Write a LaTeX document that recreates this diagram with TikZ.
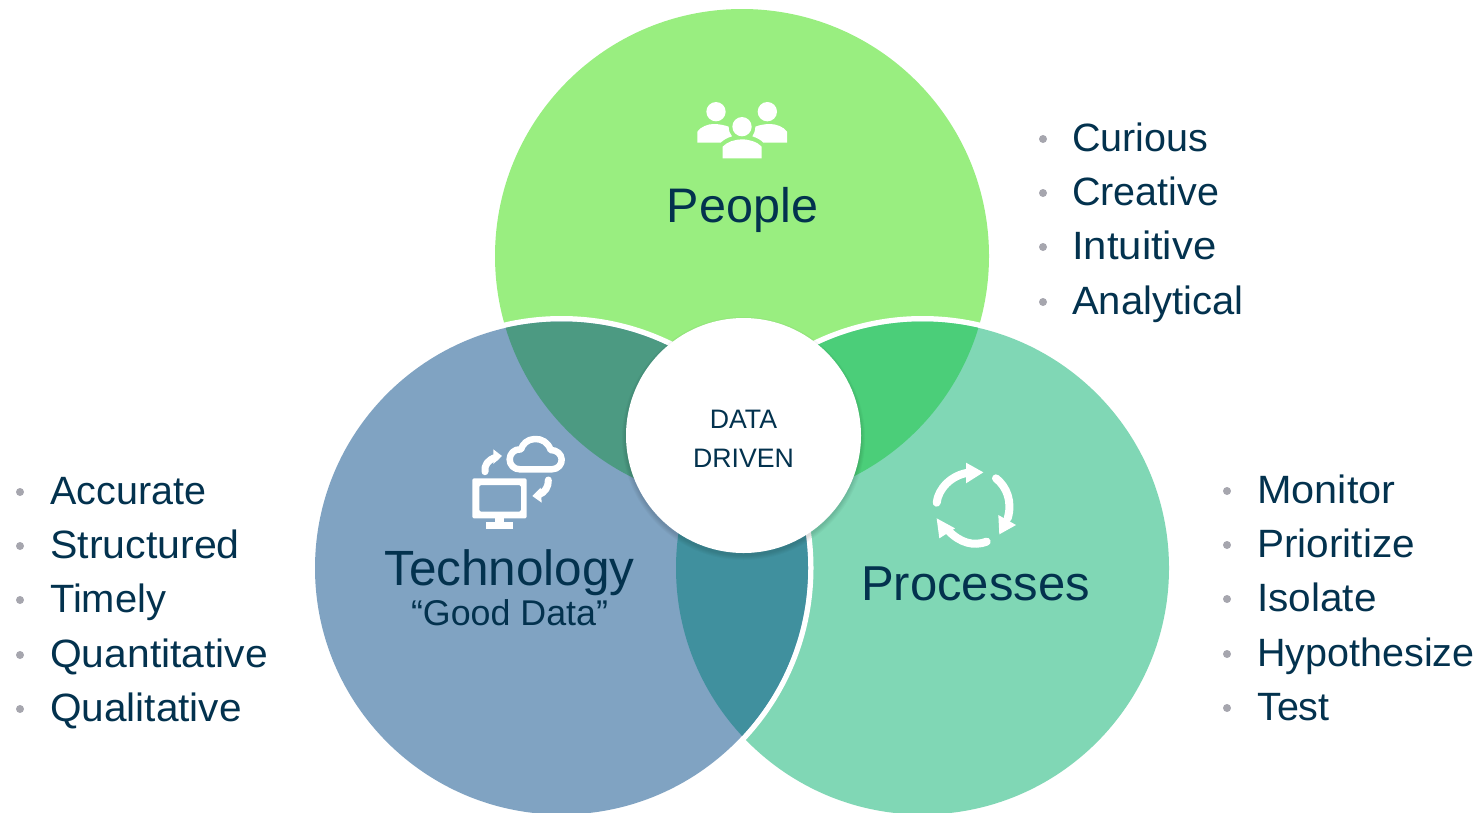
\documentclass[tikz,border=0pt]{standalone}
\usepackage{fontspec}
\setmainfont{Liberation Sans}
\definecolor{ink}{HTML}{03324E}
\definecolor{cpeople}{HTML}{99EE80}
\definecolor{ctech}{HTML}{80A3C2}
\definecolor{cproc}{HTML}{80D7B5}
\definecolor{cpt}{HTML}{4C9A82}
\definecolor{cpp}{HTML}{4BCE79}
\definecolor{ctp}{HTML}{40909E}
\definecolor{cdot}{HTML}{A6A6AE}
\tikzset{
  listitem/.style={anchor=base west,text=ink,font=\fontsize{39.5}{40}\selectfont,inner sep=0pt},
  bulletdot/.style={fill=cdot,draw=none},
  title/.style={anchor=base,text=ink,inner sep=0pt},
  iconline/.style={draw=white,line width=#1,line cap=round,line join=round},
  iconfill/.style={fill=white,draw=none}
}
\newcommand{\peoplecirc}{(742,256) circle[radius=247]}
\newcommand{\techcirc}{(561.5,568) circle[radius=246.5]}
\newcommand{\proccirc}{(922.5,568) circle[radius=246.5]}
\begin{document}
\begin{tikzpicture}[x=1pt,y=-1pt]
\useasboundingbox (0,0) rectangle (1483,812);
\clip (0,0) rectangle (1483,812);
% circles
\fill[cpeople] \peoplecirc;
\fill[white] (922.5,568) circle[radius=252];
\fill[cproc] \proccirc;
\fill[white] (561.5,568) circle[radius=252];
\fill[ctech] \techcirc;
% overlaps
\begin{scope}\clip \peoplecirc; \fill[cpt] \techcirc; \end{scope}
\begin{scope}\clip \peoplecirc; \fill[cpp] \proccirc; \end{scope}
\begin{scope}\clip \techcirc; \fill[ctp] \proccirc; \end{scope}
% shadow of the centre
\foreach \k in {8,6,4,2,0}{
  \fill[black,opacity=0.028] (743.5,438.5) circle[radius=117.5+\k*0.5];
}
\node[circle,fill=white,minimum size=235pt,inner sep=0pt] (centre) at (743.5,435.5) {};
\node[title,font=\fontsize{26.7}{27}\selectfont] (data) at (743.5,428) {DATA};
\node[title,font=\fontsize{26.7}{27}\selectfont] (driven) at (743.5,467) {DRIVEN};
% titles
\node[title,font=\fontsize{48.5}{50}\selectfont] (people) at (742.5,222) {People};
\node[title,font=\fontsize{49.5}{50}\selectfont] (technology) at (509.5,585) {Technology};
\node[title,font=\fontsize{35.8}{36}\selectfont] (gooddata) at (509.5,625) {“Good Data”};
\node[title,font=\fontsize{49}{50}\selectfont] (processes) at (975.5,600) {Processes};
% people icon
\begin{scope}[shift={(680,90)},scale=1/3]
  \fill[white] (108,65) circle[radius=29];
  \fill[white] (262,65) circle[radius=29];
  \fill[white] (186,110) circle[radius=29];
  \fill[iconfill] (52,158) -- (52,125) .. controls (62,110) and (85,102) .. (100,102) .. controls (118,102) and (135,106) .. (146,110) .. controls (146,122) and (150,132) .. (156,139) .. controls (142,143) and (130,150) .. (122,158) -- cycle;
  \fill[iconfill] (321,158) -- (321,125) .. controls (311,110) and (288,102) .. (270,102) .. controls (252,102) and (236,106) .. (226,110) .. controls (226,122) and (222,132) .. (217,139) .. controls (231,143) and (243,150) .. (250,158) -- cycle;
  \fill[iconfill] (128,205) -- (128,170) .. controls (140,156) and (165,148) .. (186,148) .. controls (207,148) and (233,156) .. (245,170) -- (245,205) -- cycle;
\end{scope}
% technology icon
\begin{scope}[shift={(440,420)},scale=1/3]
  \fill[iconfill,rounded corners=1.5pt,even odd rule] (97,175) rectangle (260,295) (118,195) rectangle (243,275);
  \fill[iconfill] (165,290) rectangle (192,310);
  \fill[iconfill] (138,307) rectangle (220,328);
  \draw[iconline=6.5pt] (240,148) -- (335,148) .. controls (355,148) and (366,132) .. (365,118) .. controls (364,102) and (350,90) .. (332,90) .. controls (325,68) and (305,55) .. (283,57) .. controls (262,58) and (248,72) .. (243,88) .. controls (222,86) and (209,102) .. (209,118) .. controls (209,135) and (222,148) .. (240,148) -- cycle;
  \draw[iconline=7pt] (135,155) .. controls (132,135) and (145,118) .. (168,112);
  \fill[iconfill] (160,88) -- (186,108) -- (160,132) -- cycle;
  \draw[iconline=7pt] (325,180) .. controls (326,200) and (315,218) .. (295,225);
  \fill[iconfill] (302,203) -- (277,228) -- (305,248) -- cycle;
\end{scope}
% processes icon
\begin{scope}[shift={(910,440)},scale=1/3]
  \draw[iconline=8pt] (80,188) .. controls (85,145) and (125,105) .. (175,98);
  \fill[iconfill] (168,68) -- (220,97) -- (168,130) -- cycle;
  \draw[iconline=8pt] (258,115) .. controls (290,140) and (308,185) .. (293,235);
  \fill[iconfill] (265,225) -- (318,255) -- (268,283) -- cycle;
  \draw[iconline=8pt] (230,305) .. controls (190,320) and (150,308) .. (115,272);
  \fill[iconfill] (80,235) -- (135,265) -- (88,295) -- cycle;
\end{scope}
% lists
\foreach \y/\t/\n/\w in {139/Curious/a/1,193/Creative/b/1,247/Intuitive/c/1.06,302/Analytical/d/1.012}{
  \fill[bulletdot] (1043,\y) circle[radius=4];
  \node[listitem] (pl\n) at (1072,\y+12) {\scalebox{\w}[1]{\t}};
}
\foreach \y/\t/\n/\w in {492/Accurate/a/1,546/Structured/b/1.04,600/Timely/c/1.01,655/Quantitative/d/1.033,709/Qualitative/e/1.027}{
  \fill[bulletdot] (20,\y) circle[radius=4];
  \node[listitem] (tl\n) at (50,\y+12) {\scalebox{\w}[1]{\t}};
}
\foreach \y/\t/\n/\w in {491/Monitor/a/1.05,545/Prioritize/b/1.026,599/Isolate/c/1.026,654/Hypothesize/d/1,708/Test/e/1}{
  \fill[bulletdot] (1227,\y) circle[radius=4];
  \node[listitem] (rl\n) at (1257,\y+12) {\scalebox{\w}[1]{\t}};
}
\end{tikzpicture}
\end{document}
